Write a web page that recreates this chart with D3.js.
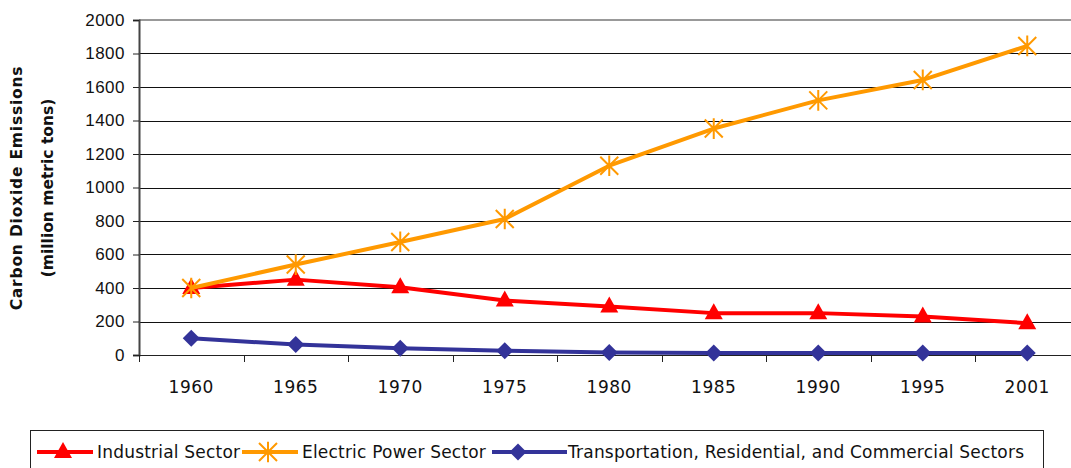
<!DOCTYPE html>
<html>
<head>
<meta charset="utf-8">
<script src="https://cdn.jsdelivr.net/npm/d3@7"></script>
<style>
  body { margin: 0; background: #fff; }
  svg { display: block; font-family: "DejaVu Sans", sans-serif; }
</style>
</head>
<body>
<svg id="chart" width="1071" height="468"></svg>
<script>
const years = ["1960", "1965", "1970", "1975", "1980", "1985", "1990", "1995", "2001"];
const industrial = [400, 450, 405, 325, 290, 250, 250, 230, 190];
const electric = [400, 540, 675, 812, 1130, 1352, 1520, 1642, 1845];
const transport = [100, 62, 40, 25, 15, 12, 12, 12, 12];
const yTicks = [0, 200, 400, 600, 800, 1000, 1200, 1400, 1600, 1800, 2000];

const seriesNames = ["Industrial Sector", "Electric Power Sector", "Transportation, Residential, and Commercial Sectors"];
const seriesColors = ["#ff0000", "#ff9900", "#333399"];
const seriesValues = [industrial, electric, transport];
const seriesMarkers = ["triangle", "star", "diamond"];

const svg = d3.select("#chart");
const plotLeft = 139, plotTop = 20, plotBottom = 355;
const bandW = 104.5;

const x = d3.scaleBand().domain(years).range([plotLeft, plotLeft + bandW * years.length]);
const y = d3.scaleLinear().domain([0, 2000]).range([plotBottom, plotTop]);
const crisp = v => Math.round(v) + 0.5;

// gridlines
svg.append("g")
  .selectAll("line")
  .data(yTicks.filter(d => d > 0 && d < 2000))
  .join("line")
  .attr("x1", plotLeft).attr("x2", 1071)
  .attr("y1", d => crisp(y(d))).attr("y2", d => crisp(y(d)))
  .attr("stroke", "#111").attr("stroke-width", 1);

// top border
svg.append("line")
  .attr("x1", plotLeft).attr("x2", 1071)
  .attr("y1", y(2000)).attr("y2", y(2000))
  .attr("stroke", "#999").attr("stroke-width", 2);

// y axis
const yAxis = svg.append("g")
  .attr("transform", `translate(${plotLeft},0)`)
  .call(d3.axisLeft(y).tickValues(yTicks).tickSize(6).tickPadding(8).tickFormat(d3.format("d")));
yAxis.select(".domain").attr("stroke", "#444").attr("stroke-width", 2);
yAxis.selectAll(".tick line").attr("stroke", "#222");
yAxis.selectAll("text").style("font-size", "17px").style("letter-spacing", "0.5px").attr("fill", "#111");

// x axis
svg.append("line")
  .attr("x1", plotLeft).attr("x2", 1071)
  .attr("y1", crisp(plotBottom)).attr("y2", crisp(plotBottom))
  .attr("stroke", "#222").attr("stroke-width", 1.2);
const xBounds = d3.range(years.length + 1).map(i => plotLeft + i * bandW);
svg.append("g")
  .selectAll("line")
  .data(xBounds.filter(v => v <= 1071))
  .join("line")
  .attr("x1", d => crisp(d)).attr("x2", d => crisp(d))
  .attr("y1", plotBottom).attr("y2", plotBottom + 7)
  .attr("stroke", "#222");
svg.append("g")
  .selectAll("text")
  .data(years)
  .join("text")
  .attr("x", d => x(d) + x.bandwidth() / 2)
  .attr("y", 393)
  .attr("text-anchor", "middle")
  .style("font-size", "17px")
  .style("letter-spacing", "0.5px")
  .attr("fill", "#111")
  .text(d => d);

// y axis title
const yTitle = svg.append("text")
  .attr("transform", "translate(22,188) rotate(-90)")
  .attr("text-anchor", "middle")
  .style("font-size", "15.5px")
  .style("font-weight", "bold")
  .attr("fill", "#111");
yTitle.append("tspan").attr("x", 0).attr("dy", 0).style("letter-spacing", "0.8px").text("Carbon Dioxide Emissions");
yTitle.append("tspan").attr("x", 0).attr("dy", 31).text("(million metric tons)");

function drawMarker(g, type, color) {
  if (type === "triangle") {
    g.append("path").attr("d", "M0,-10 L9,6 L-9,6 Z").attr("fill", color);
  } else if (type === "diamond") {
    g.append("path").attr("d", "M0,-8.5 L8.5,0 L0,8.5 L-8.5,0 Z").attr("fill", color);
  } else {
    const r = 9;
    g.append("path")
      .attr("d", `M${-r},${-r}L${r},${r}M${-r},${r}L${r},${-r}M0,${-r * 1.15}L0,${r * 1.15}`)
      .attr("stroke", color).attr("stroke-width", 2).attr("fill", "none");
  }
}

const line = d3.line().x((d, i) => x(years[i]) + x.bandwidth() / 2).y(d => y(d));

// transport first, then industrial, then electric on top
[2, 0, 1].forEach(si => {
  const vals = seriesValues[si];
  svg.append("path")
    .datum(vals)
    .attr("d", line)
    .attr("fill", "none")
    .attr("stroke", seriesColors[si])
    .attr("stroke-width", 4)
    .attr("stroke-linejoin", "round");
  vals.forEach((v, i) => {
    const g = svg.append("g").attr("transform", `translate(${x(years[i]) + x.bandwidth() / 2},${y(v)})`);
    drawMarker(g, seriesMarkers[si], seriesColors[si]);
  });
});

// legend
svg.append("rect")
  .attr("x", 30.5).attr("y", 430.5)
  .attr("width", 1013).attr("height", 45)
  .attr("fill", "#fff").attr("stroke", "#222").attr("stroke-width", 1);

const legendX = [37, 242, 492];
const legendLen = [56, 56, 75];
const legendTextX = [97, 302, 568];
const legendY = 452;
seriesNames.forEach((name, si) => {
  const lx = legendX[si];
  svg.append("line")
    .attr("x1", lx).attr("x2", lx + legendLen[si])
    .attr("y1", legendY).attr("y2", legendY)
    .attr("stroke", seriesColors[si]).attr("stroke-width", 4);
  const g = svg.append("g").attr("transform", `translate(${lx + 26},${legendY})`);
  drawMarker(g, seriesMarkers[si], seriesColors[si]);
  svg.append("text")
    .attr("x", legendTextX[si]).attr("y", legendY + 6)
    .style("font-size", "17px")
    .style("letter-spacing", "0.2px")
    .attr("fill", "#111")
    .text(name);
});
</script>
</body>
</html>
